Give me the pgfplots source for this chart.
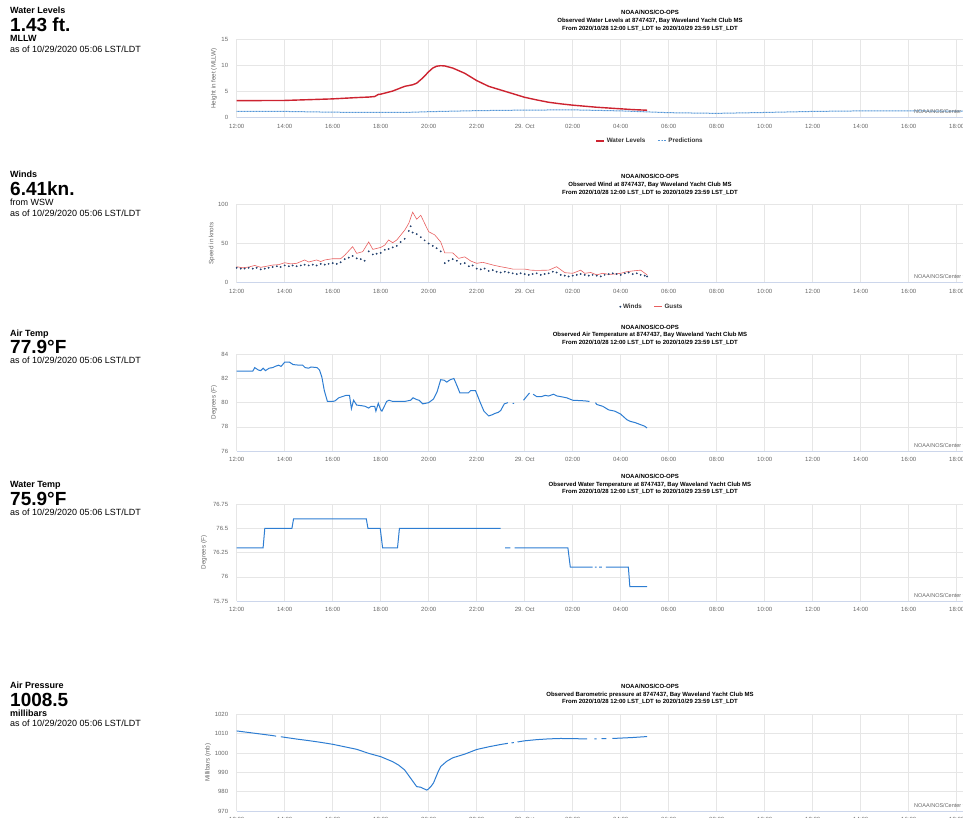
\documentclass[border=0pt]{standalone}
\usepackage{fontspec}
\setmainfont{Liberation Sans}
\usepackage{pgfplots}
\pgfplotsset{compat=1.18}
\definecolor{wlred}{RGB}{205,35,48}
\definecolor{predblue}{RGB}{85,150,215}
\definecolor{lblue}{RGB}{45,125,210}
\definecolor{gustred}{RGB}{232,95,95}
\definecolor{windc}{RGB}{35,65,110}
\definecolor{gridc}{RGB}{230,230,230}
\definecolor{axisc}{RGB}{204,214,235}
\definecolor{tickc}{RGB}{102,102,102}
\definecolor{legc}{RGB}{51,51,51}
\tikzset{
 tt/.style={anchor=base, font=\fontsize{6}{7}\selectfont\bfseries, inner sep=0pt},
 lab/.style={anchor=base west, inner sep=0pt, font=\fontsize{9}{10}\selectfont\bfseries},
 big/.style={anchor=base west, inner sep=0pt, font=\fontsize{19}{20}\selectfont\bfseries},
 asof/.style={anchor=base west, inner sep=0pt, font=\fontsize{9}{10}\selectfont},
 cred/.style={anchor=base west, inner sep=0pt, font=\fontsize{5.5}{6}\selectfont, text=tickc},
}
\pgfplotsset{
 noaa/.style={
  scale only axis, width=864pt, xmin=0, xmax=36, anchor=south west,
  axis line style={draw=none}, tick style={draw=none},
  grid=major, major grid style={draw=gridc, line width=0.6pt},
  xtick={0,2,...,34},
  xticklabels={12:00,14:00,16:00,18:00,20:00,22:00,29. Oct,02:00,04:00,06:00,08:00,10:00,12:00,14:00,16:00,18:00,20:00,22:00},
  ticklabel style={font=\fontsize{6}{7}\selectfont, text=tickc},
  x tick label style={yshift=-3pt},
  y tick label style={xshift=-5pt},
  /pgf/number format/assume math mode=true,
  /pgf/number format/1000 sep={},
  every axis y label/.style={rotate=90, anchor=center, font=\fontsize{6.3}{7}\selectfont, text=tickc},
  unbounded coords=jump,
  after end axis/.code={\draw[axisc, line width=0.8pt] (rel axis cs:0,0) -- (rel axis cs:1,0);},
  legend style={draw=none, fill=none, legend columns=-1, font=\fontsize{6.3}{7}\selectfont\bfseries, text=legc, inner sep=0pt, /tikz/every even column/.append style={column sep=10pt}},
  legend image code/.code={\draw[mark repeat=2,mark phase=2,##1] plot coordinates {(0pt,0pt) (4pt,0pt) (8pt,0pt)};},
 },
}
\newcommand\ttl[2]{%
 \node[tt] at (650pt,-#1pt) {NOAA/NOS/CO-OPS};
 \node[tt] at (650pt,-#1pt-7.8pt) {#2};
 \node[tt] at (650pt,-#1pt-15.6pt) {From 2020/10/28 12:00 LST\_LDT to 2020/10/29 23:59 LST\_LDT};}
\begin{document}
\begin{tikzpicture}
\path[use as bounding box] (0,0) rectangle (963pt,-818pt);
\clip (0,0) rectangle (963pt,-818pt);

% ---------- left text blocks ----------
\node[lab] at (10pt,-13.3pt) {Water Levels};
\node[big] at (10pt,-31.7pt) {1.43 ft.};
\node[lab] at (10pt,-42pt) {MLLW};
\node[asof] at (10pt,-52.5pt) {as of 10/29/2020 05:06 LST/LDT};

\node[lab] at (10pt,-177.3pt) {Winds};
\node[big] at (10pt,-195.8pt) {6.41kn.};
\node[asof] at (10pt,-206pt) {from WSW};
\node[asof] at (10pt,-216.3pt) {as of 10/29/2020 05:06 LST/LDT};

\node[lab] at (10pt,-336.3pt) {Air Temp};
\node[big] at (10pt,-353.8pt) {77.9°F};
\node[asof] at (10pt,-363.8pt) {as of 10/29/2020 05:06 LST/LDT};

\node[lab] at (10pt,-487.5pt) {Water Temp};
\node[big] at (10pt,-505pt) {75.9°F};
\node[asof] at (10pt,-515pt) {as of 10/29/2020 05:06 LST/LDT};

\node[lab] at (10pt,-688pt) {Air Pressure};
\node[big] at (10pt,-706.7pt) {1008.5};
\node[lab] at (10pt,-716.7pt) {millibars};
\node[asof] at (10pt,-726pt) {as of 10/29/2020 05:06 LST/LDT};

% ---------- titles ----------
\ttl{14.5}{Observed Water Levels at 8747437, Bay Waveland Yacht Club MS}
\ttl{179}{Observed Wind at 8747437, Bay Waveland Yacht Club MS}
\ttl{329}{Observed Air Temperature at 8747437, Bay Waveland Yacht Club MS}
\ttl{478.3}{Observed Water Temperature at 8747437, Bay Waveland Yacht Club MS}
\ttl{688.3}{Observed Barometric pressure at 8747437, Bay Waveland Yacht Club MS}

% ---------- Water levels ----------
\begin{axis}[noaa, at={(236.7pt,-117.7pt)}, height=78.4pt, ymin=0, ymax=15, ytick={0,5,10,15},
  ylabel={Height in feet (MLLW)}, ylabel style={at={(axis description cs:-0.0263,0.5)}},
  legend style={at={(axis description cs:0.4784,-0.297)}, anchor=center}]
\addplot[wlred, line width=1.4pt] coordinates {
(0,3.27)(1,3.28)(2,3.3)(3,3.45)(4,3.6)(5,3.85)(5.5,3.95)(5.75,4.05)(5.9,4.45)(6,4.5)(6.5,5.1)(7,6.0)(7.33,6.3)(7.5,6.6)(7.75,7.6)(8,8.8)(8.17,9.5)(8.33,9.85)(8.5,9.95)(8.67,9.9)(9,9.5)(9.5,8.5)(10,7.1)(10.5,6.0)(11,5.3)(11.5,4.6)(12,3.9)(12.5,3.4)(13,2.95)(13.5,2.65)(14,2.4)(15,2.0)(16,1.7)(16.5,1.55)(17.1,1.43)};
\addlegendentry{Water Levels}
\addplot[predblue, line width=1pt, dash pattern=on 1pt off 0.5pt] coordinates {
(0,1.2)(2,1.2)(4,1.05)(6,1.0)(7,1.0)(8,1.15)(10,1.35)(12,1.45)(14,1.5)(16,1.3)(18,0.96)(20,0.83)(22,1.0)(24,1.2)(26,1.3)(28,1.3)(30,1.25)(32,1.2)(34,1.1)(36,1.0)};
\addlegendentry{Predictions}
\end{axis}
\node[cred] at (914pt,-114pt) {NOAA/NOS/Center for Operational Oceanographic Products and Services};

% ---------- Winds ----------
\begin{axis}[noaa, at={(236.7pt,-282.7pt)}, height=78.4pt, ymin=0, ymax=100, ytick={0,50,100},
  ylabel={Speed in knots}, ylabel style={at={(axis description cs:-0.0289,0.5)}},
  legend style={at={(axis description cs:0.4807,-0.306)}, anchor=center}]
\addplot[only marks, mark=*, mark size=0.7pt, windc] coordinates {
(0.00,19)(0.17,18)(0.33,18)(0.50,19)(0.67,18)(0.83,19)(1.00,17)(1.17,18)(1.33,19)(1.50,20)(1.67,21)(1.83,20)
(2.00,22)(2.17,21)(2.33,22)(2.50,21)(2.67,22)(2.83,23)(3.00,22)(3.17,23)(3.33,22)(3.50,24)(3.67,23)(3.83,24)
(4.00,25)(4.17,24)(4.33,26)(4.50,30)(4.67,32)(4.83,34)(5.00,31)(5.17,30)(5.33,28)(5.50,40)(5.67,36)(5.83,37)
(6.00,38)(6.17,42)(6.33,43)(6.50,45)(6.67,47)(6.83,52)(7.00,56)(7.17,66)(7.25,72)(7.33,64)(7.50,62)(7.67,58)
(7.83,54)(8.00,50)(8.17,47)(8.33,44)(8.50,40)(8.67,25)(8.83,28)(9.00,30)(9.17,28)(9.33,24)(9.50,25)(9.67,21)
(9.83,22)(10.00,18)(10.17,17)(10.33,18)(10.50,15)(10.67,16)(10.83,14)(11.00,13)(11.17,14)(11.33,13)(11.50,12)
(11.67,11)(11.83,12)(12.00,11)(12.17,10)(12.33,11)(12.50,12)(12.67,10)(12.83,11)(13.00,12)(13.17,14)(13.33,13)
(13.50,10)(13.67,9)(13.83,8)(14.00,9)(14.17,10)(14.33,11)(14.50,10)(14.67,9)(14.83,10)(15.00,9)(15.17,8)
(15.33,10)(15.50,11)(15.67,12)(15.83,11)(16.00,10)(16.17,12)(16.33,13)(16.50,11)(16.67,12)(16.83,10)(17.00,9)(17.10,8)};
\addlegendentry{Winds}
\addplot[gustred, line width=0.6pt] coordinates {
(0,20.4)(0.25,19)(0.5,20)(0.75,22)(1.0,19.6)(1.25,21)(1.5,22.5)(1.75,23)(2.0,25.5)(2.25,24)(2.5,24.7)(2.83,29)(3.0,26.4)
(3.33,29)(3.5,27)(3.67,29)(4.0,30.6)(4.33,30.6)(4.5,35)(4.83,46)(5.0,37.4)(5.25,39.6)(5.5,52)(5.67,42.5)(6.0,45)
(6.17,48)(6.33,54.5)(6.5,51)(6.67,54.5)(7.0,67)(7.17,75.7)(7.33,90)(7.5,81)(7.67,86)(7.83,75.7)(8.0,65)(8.25,61)
(8.5,52)(8.67,38)(9.0,38)(9.25,31)(9.5,33)(9.75,27.7)(10.0,24.7)(10.25,26)(10.5,24)(10.75,22)(11.0,20.4)(11.25,19)
(11.5,17.4)(12.0,17.4)(12.25,16)(12.5,15.7)(13.0,16)(13.33,20.4)(13.67,12.8)(14.0,12)(14.33,16)(14.5,12)(14.75,13)
(15.0,10)(15.25,12)(15.5,10.6)(15.75,11)(16.0,12)(16.25,14)(16.5,15)(16.83,16)(17.1,10)};
\addlegendentry{Gusts}
\end{axis}
\node[cred] at (914pt,-278.7pt) {NOAA/NOS/Center for Operational Oceanographic Products and Services};

% ---------- Air temperature ----------
\begin{axis}[noaa, at={(236.7pt,-451pt)}, height=96.7pt, ymin=76, ymax=84, ytick={76,78,...,84},
  ylabel={Degrees (F)}, ylabel style={at={(axis description cs:-0.0263,0.5)}}]
\addplot[lblue, line width=1pt] coordinates {
(0,82.6)(0.67,82.6)(0.75,82.9)(0.9,82.7)(1.0,82.65)(1.1,82.85)(1.2,82.65)(1.35,82.85)(1.5,82.9)(1.6,83.0)(1.75,83.1)
(1.85,83.0)(2.0,83.35)(2.2,83.35)(2.35,83.15)(2.6,83.1)(2.75,83.1)(2.85,82.9)(3.0,82.85)(3.1,82.95)(3.35,82.9)(3.45,82.7)
(3.55,82.1)(3.65,81.0)(3.78,80.1)(4.0,80.1)(4.1,80.15)(4.25,80.4)(4.4,80.5)(4.55,80.6)(4.7,80.6)(4.78,79.5)(4.87,80.2)
(5.0,79.8)(5.2,79.75)(5.35,79.7)(5.5,79.55)(5.6,79.7)(5.75,79.7)(5.8,79.3)(5.9,79.95)(6.0,79.4)(6.05,79.3)(6.15,79.7)
(6.25,80.1)(6.35,80.2)(6.5,80.1)(7.0,80.1)(7.25,80.2)(7.35,80.4)(7.5,80.25)(7.6,80.2)(7.75,79.9)(8.0,80.0)(8.2,80.3)
(8.35,80.9)(8.5,81.9)(8.65,81.85)(8.75,81.7)(8.9,81.9)(9.05,82.0)(9.2,81.3)(9.3,80.8)(9.5,80.8)(9.65,80.8)(9.75,81.0)
(9.95,81.0)(10.15,80.0)(10.3,79.3)(10.5,78.9)(10.65,79.0)(10.75,79.1)(10.9,79.2)(11.0,79.35)(11.15,79.9)(11.3,80.0)
(11.32,nan)(11.5,79.95)(11.56,79.95)(11.6,nan)(11.95,80.2)(12.2,80.8)(12.25,nan)(12.35,80.7)(12.5,80.5)(12.7,80.5)
(12.85,80.6)(13.0,80.55)(13.2,80.7)(13.35,80.55)(13.5,80.5)(13.75,80.4)(14.0,80.2)(14.5,80.15)(14.7,80.1)(14.75,nan)
(14.95,80.0)(15.0,79.85)(15.25,79.7)(15.5,79.4)(15.75,79.3)(16.0,79.05)(16.25,78.6)(16.4,78.45)(16.6,78.35)(16.8,78.2)
(17.0,78.05)(17.1,77.9)};
\end{axis}
\node[cred] at (914pt,-447pt) {NOAA/NOS/Center for Operational Oceanographic Products and Services};

% ---------- Water temperature ----------
\begin{axis}[noaa, at={(236.7pt,-601pt)}, height=96.7pt, ymin=75.75, ymax=76.75, ytick={75.75,76,76.25,76.5,76.75},
  ylabel={Degrees (F)}, ylabel style={at={(axis description cs:-0.0378,0.5)}}]
\addplot[lblue, line width=1pt] coordinates {
(0,76.3)(1.1,76.3)(1.17,76.5)(2.3,76.5)(2.37,76.6)(5.4,76.6)(5.47,76.5)(5.98,76.5)(6.08,76.3)(6.7,76.3)(6.78,76.5)
(11.0,76.5)(11.05,nan)(11.18,76.3)(11.4,76.3)(11.45,nan)(11.58,76.3)(13.8,76.3)(13.9,76.1)(14.83,76.1)(14.86,nan)
(14.92,76.1)(15.0,76.1)(15.05,nan)(15.1,76.1)(15.22,76.1)(15.3,nan)(15.38,76.1)(16.32,76.1)(16.38,75.9)(17.1,75.9)};
\end{axis}
\node[cred] at (914pt,-597pt) {NOAA/NOS/Center for Operational Oceanographic Products and Services};

% ---------- Air pressure ----------
\begin{axis}[noaa, at={(236.7pt,-811pt)}, height=96.7pt, ymin=970, ymax=1020, ytick={970,980,...,1020},
  ylabel={Millibars (mb)}, ylabel style={at={(axis description cs:-0.0332,0.5)}}]
\addplot[lblue, line width=1pt] coordinates {
(0,1011.4)(0.5,1010.6)(1.0,1009.8)(1.5,1009.0)(1.64,1008.7)(1.7,nan)(1.84,1008.4)(2.0,1008.1)(2.5,1007.2)(3.0,1006.4)
(3.5,1005.5)(4.0,1004.5)(4.5,1003.2)(5.0,1001.9)(5.5,999.8)(6.0,998.1)(6.5,995.5)(6.75,993.7)(7.0,991.2)(7.25,986.9)
(7.5,982.6)(7.67,982.3)(7.8,981.5)(7.92,980.8)(8.0,981.5)(8.1,982.8)(8.2,984.5)(8.3,987.5)(8.4,990.5)(8.5,993.0)
(8.75,995.7)(9.0,997.5)(9.5,999.4)(10.0,1001.8)(10.5,1003.2)(11.0,1004.4)(11.3,1005.0)(11.35,nan)(11.45,1005.2)
(11.55,1005.4)(11.6,nan)(11.7,1005.7)(12.0,1006.3)(12.5,1006.9)(13.0,1007.3)(13.5,1007.5)(14.0,1007.4)(14.6,1007.3)
(14.65,nan)(14.9,1007.35)(15.0,1007.35)(15.1,nan)(15.2,1007.4)(15.4,1007.45)(15.5,nan)(15.65,1007.5)(16.0,1007.7)
(16.5,1008.0)(17.1,1008.5)};
\end{axis}
\node[cred] at (914pt,-807pt) {NOAA/NOS/Center for Operational Oceanographic Products and Services};
\end{tikzpicture}
\end{document}
